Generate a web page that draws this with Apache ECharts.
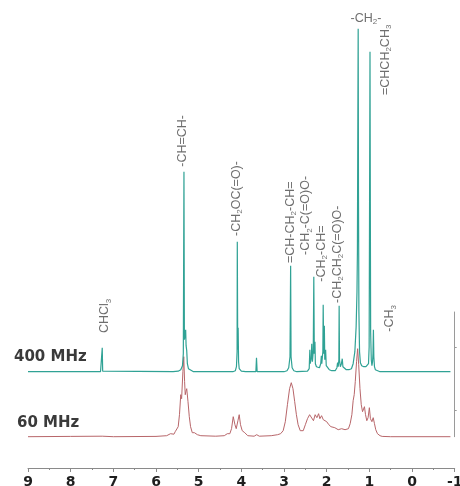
<!DOCTYPE html>
<html><head><meta charset="utf-8">
<script src="https://cdn.jsdelivr.net/npm/echarts@6/dist/echarts.min.js"></script>
<style>html,body{margin:0;padding:0;background:#fff}#c{width:460px;height:486px}</style>
</head><body><div id="c"></div>
<script>
// x ticks (ppm)
const xMin = -1, xMax = 9;
// 400 MHz spectrum: [ppm, intensity]
const spec400 = [
 [9.0,0],[7.30,0],[7.27,0.5],[7.26,24],[7.25,0.5],[7.22,0],
 [5.60,0],[5.48,0.5],[5.42,2],[5.38,6],[5.36,18],[5.345,200],[5.335,32],[5.32,36],[5.305,42],[5.295,26],[5.28,21],[5.265,8],[5.24,3],[5.2,1],[5.12,0],
 [4.20,0],[4.14,1],[4.115,5],[4.10,20],[4.095,130],[4.085,22],[4.075,44],[4.065,10],[4.05,3],[4.0,0.5],[3.9,0],
 [3.66,0],[3.645,14],[3.63,0],
 [3.0,0],[2.93,1],[2.89,4],[2.86,15],[2.845,106],[2.835,15],[2.81,4],[2.77,1],[2.70,0],
 [2.45,0.5],[2.41,3],[2.395,22],[2.385,8],[2.36,14],[2.35,28],[2.335,10],[2.315,20],[2.302,95],[2.29,18],[2.275,30],[2.265,8],[2.24,5],[2.20,6],[2.17,4],
 [2.14,8],[2.125,16],[2.115,8],[2.09,20],[2.082,67],[2.07,18],[2.055,46],[2.045,12],[2.025,22],[2.01,6],[1.98,4],[1.94,2],[1.88,1],
 [1.80,1],[1.76,4],[1.745,9],[1.73,5],[1.715,12],[1.708,66],[1.70,12],[1.68,5],[1.655,8],[1.635,13],[1.62,5],[1.59,3],[1.54,2],[1.48,2],
 [1.42,3],[1.38,8],[1.34,20],[1.31,45],[1.29,80],[1.28,120],[1.27,250],[1.262,343],[1.255,180],[1.245,60],[1.23,20],[1.21,9],[1.18,6],[1.15,8],[1.13,5],[1.11,7],[1.08,5],[1.05,6],[1.02,8],
 [1.005,25],[0.995,170],[0.985,320],[0.977,160],[0.97,40],[0.955,12],[0.94,6],[0.925,10],[0.915,18],[0.905,42],[0.895,15],[0.88,5],[0.86,2],[0.83,0.5],[0.75,0],[-0.9,0]
];
// 60 MHz spectrum: [ppm, intensity]
const spec60 = [
 [9.0,0],[8.0,0.3],[7.26,0.5],[7.0,0],[6.0,0.3],[5.75,1],[5.66,3],[5.62,4],[5.58,2.5],[5.55,5],[5.52,6],[5.48,10],[5.45,22],[5.42,42],[5.40,38],[5.37,65],[5.35,80],[5.33,55],[5.315,42],[5.30,45],[5.28,48],[5.25,35],[5.22,20],[5.19,10],[5.15,4],[5.10,4],[5.07,5],[5.03,2],[4.95,1],[4.60,0.5],
 [4.40,1],[4.33,3],[4.30,5],[4.27,3],[4.23,8],[4.19,20],[4.15,12],[4.12,8],[4.08,16],[4.05,22],[4.02,12],[3.98,6],[3.95,6],[3.92,4],[3.85,1],[3.70,0.5],[3.64,2],[3.58,0.5],
 [3.30,1],[3.15,2],[3.08,3],[3.02,6],[2.97,15],[2.92,32],[2.87,48],[2.83,54],[2.79,48],[2.75,35],[2.71,22],[2.67,12],[2.62,6],[2.55,6],[2.50,12],[2.45,18],[2.40,22],[2.36,21],[2.31,16],[2.27,22],[2.23,19],[2.19,23],[2.16,18],[2.12,21],[2.08,17],[2.04,16],[2.00,15],[1.95,12],[1.90,10],[1.86,8],[1.81,9],[1.77,10],[1.73,7],[1.69,9],[1.65,8],[1.61,7],[1.57,7],[1.53,8],[1.49,8],
 [1.45,13],[1.41,22],[1.38,36],[1.355,42],[1.33,55],[1.30,75],[1.275,88],[1.25,72],[1.22,48],[1.19,32],[1.16,25],[1.14,24],[1.115,30],[1.09,22],[1.06,16],[1.03,19],[1.00,29],[0.975,18],[0.94,15],[0.91,19],[0.88,13],[0.85,7],[0.81,3],[0.75,1],[0.70,0.3],[0.5,0],[-0.9,0]
];
// peak assignments: text, ppm, intensity at the label foot
const labelText = ['CHCl{s|3}','-CH=CH-','-CH{s|2}OC(=O)-','=CH-CH{s|2}-CH=','-CH{s|2}-C(=O)O-','-CH{s|2}-CH=','-CH{s|2}CH{s|2}C(=O)O-','-CH{s|2}-','=CHCH{s|2}CH{s|3}','-CH{s|3}'];
const labelPpm  = [7.195, 5.38, 4.11, 2.85, 2.485, 2.13, 1.745, 1.08, 0.63, 0.516];
const labelVal  = [38.7, 205, 135.7, 108.7, 116.7, 90, 68.7, 353.4, 276.7, 40];
const horizontalLabel = '-CH{s|2}-';
const names = ['400 MHz','60 MHz'];

const H400 = 371.7, H60 = 124.7;
const labelData = labelText.map((t,i)=>{
  const horiz = t === horizontalLabel;
  return {
    value:[labelPpm[i], labelVal[i]],
    label:{
      formatter:t,
      rotate: horiz ? 0 : 90,
      align: horiz ? 'center' : 'left',
      verticalAlign:'middle'
    }
  };
});

const chart = echarts.init(document.getElementById('c'), null, {renderer:'canvas'});
const textRich = {s:{fontSize:8, color:'#4a4a4a', fontFamily:'Liberation Sans', verticalAlign:'bottom', lineHeight:15}};
chart.setOption({
  animation:false,
  backgroundColor:'#fff',
  grid:[
    {left:28, right:5.3, top:0, bottom:486-371.7, outerBoundsMode:'none', containLabel:false},
    {left:28, right:5.3, top:312, bottom:486-436.7, outerBoundsMode:'none', containLabel:false},
    {left:28, right:5.3, top:467, bottom:486-468, outerBoundsMode:'none', containLabel:false}
  ],
  xAxis:[
    {gridIndex:0, type:'value', min:xMin, max:xMax, inverse:true, show:false},
    {gridIndex:1, type:'value', min:xMin, max:xMax, inverse:true, show:false},
    {gridIndex:2, type:'value', min:xMin, max:xMax, inverse:true, interval:1, position:'bottom',
     axisLine:{show:true, onZero:false, lineStyle:{color:'#8a8a8a', width:1}},
     axisTick:{show:true, length:4, lineStyle:{color:'#8a8a8a'}},
     minorTick:{show:true, splitNumber:2, length:2, lineStyle:{color:'#8a8a8a'}},
     splitLine:{show:false},
     axisLabel:{show:true, margin:7, color:'#1e1e1e', fontSize:14, fontWeight:'bold', fontFamily:'DejaVu Sans'}}
  ],
  yAxis:[
    {gridIndex:0, type:'value', min:0, max:H400, show:false},
    {gridIndex:1, type:'value', min:0, max:H60, position:'right',
     axisLine:{show:true, onZero:false, lineStyle:{color:'#9a9a9a', width:1}},
     axisTick:{show:true, length:2, customValues:[26.7, 89.7], lineStyle:{color:'#9a9a9a'}},
     axisLabel:{show:false}, splitLine:{show:false}},
    {gridIndex:2, type:'value', min:0, max:1, show:false}
  ],
  graphic:[
    {type:'text', left:14, top:350, style:{text:names[0], font:'bold 15px "DejaVu Sans"', fill:'#3a3a3a'}},
    {type:'text', left:17, top:416, style:{text:names[1], font:'bold 15px "DejaVu Sans"', fill:'#3a3a3a'}}
  ],
  series:[
    {name:names[1], type:'line', xAxisIndex:1, yAxisIndex:1, data:spec60, showSymbol:false, clip:false,
     lineStyle:{color:'#b8666a', width:1}, silent:true},
    {name:names[0], type:'line', xAxisIndex:0, yAxisIndex:0, data:spec400, showSymbol:false, clip:false,
     lineStyle:{color:'#30a295', width:1.2}, silent:true},
    {type:'scatter', xAxisIndex:0, yAxisIndex:0, symbolSize:0, data:labelData, silent:true,
     label:{show:true, position:[0,0], distance:0, color:'#4a4a4a', fontSize:12.5, fontFamily:'Liberation Sans', lineHeight:15, rich:textRich}}
  ]
});
</script></body></html>
